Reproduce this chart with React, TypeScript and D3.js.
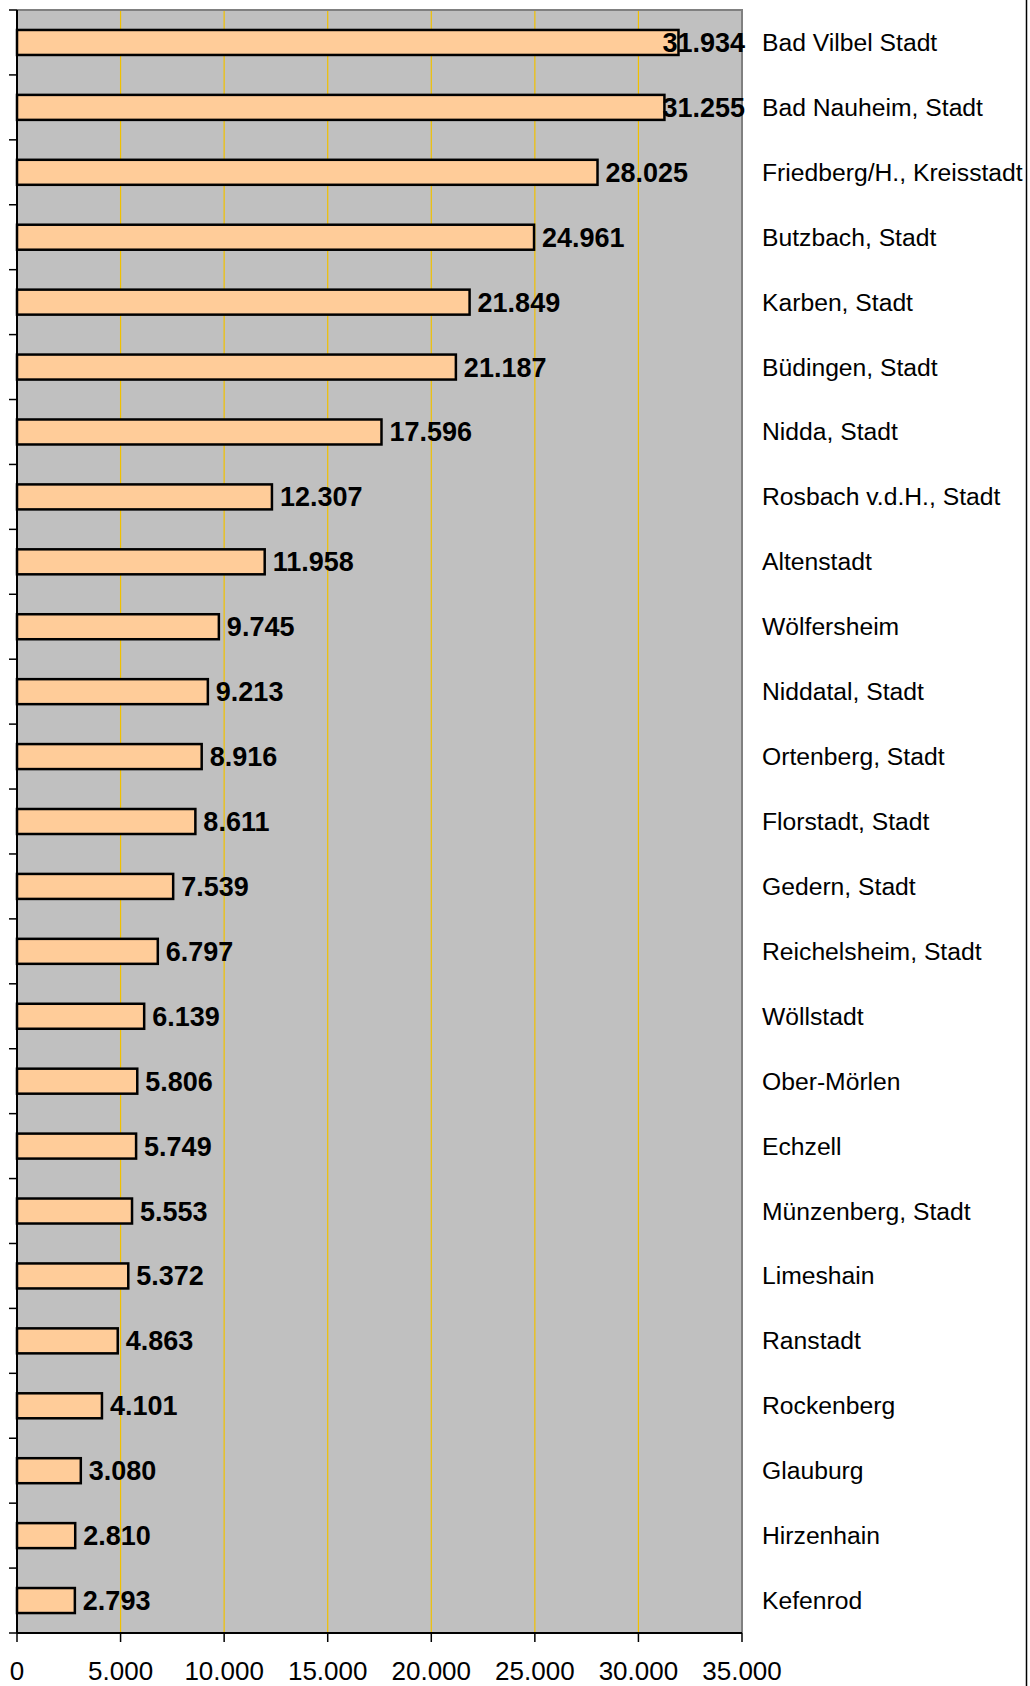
import React, { useEffect, useRef } from "react";
import * as d3 from "d3";

const towns = [
  "Bad Vilbel Stadt", "Bad Nauheim, Stadt", "Friedberg/H., Kreisstadt", "Butzbach, Stadt",
  "Karben, Stadt", "Büdingen, Stadt", "Nidda, Stadt", "Rosbach v.d.H., Stadt", "Altenstadt",
  "Wölfersheim", "Niddatal, Stadt", "Ortenberg, Stadt", "Florstadt, Stadt", "Gedern, Stadt",
  "Reichelsheim, Stadt", "Wöllstadt", "Ober-Mörlen", "Echzell", "Münzenberg, Stadt",
  "Limeshain", "Ranstadt", "Rockenberg", "Glauburg", "Hirzenhain", "Kefenrod",
];
const population = [
  31934, 31255, 28025, 24961, 21849, 21187, 17596, 12307, 11958, 9745, 9213, 8916, 8611,
  7539, 6797, 6139, 5806, 5749, 5553, 5372, 4863, 4101, 3080, 2810, 2793,
];
const xTicks = [0, 5000, 10000, 15000, 20000, 25000, 30000, 35000];

const W = 1030;
const H = 1686;
const font = "'Liberation Sans', Arial, sans-serif";

export default function App() {
  const ref = useRef<SVGSVGElement>(null);

  useEffect(() => {
    const svg = d3.select(ref.current);
    svg.selectAll("*").remove();

    const left = 17, right = 742, top = 10, bottom = 1633;
    const x = d3.scaleLinear().domain([0, 35000]).range([left, right]);
    const y = d3.scaleBand().domain(towns).range([top, bottom]).paddingInner(0.615).paddingOuter(0.3075);
    const fmt = (v: number) => d3.format(",")(v).replace(/,/g, ".");

    // plot background
    svg.append("rect")
      .attr("x", left).attr("y", top)
      .attr("width", right - left).attr("height", bottom - top)
      .attr("fill", "#c0c0c0");

    // gridlines
    svg.append("g").selectAll("line")
      .data(xTicks.slice(1, -1))
      .enter().append("line")
      .attr("x1", d => x(d)).attr("x2", d => x(d))
      .attr("y1", top).attr("y2", bottom)
      .attr("stroke", "#f0c000").attr("stroke-width", 1.2);

    // plot border top/right
    svg.append("path")
      .attr("d", `M${left},${top}H${right}V${bottom}`)
      .attr("fill", "none").attr("stroke", "#808080").attr("stroke-width", 2);

    // bar fills
    svg.append("g").selectAll("rect")
      .data(towns)
      .enter().append("rect")
      .attr("x", left)
      .attr("y", d => y(d)!)
      .attr("width", (d, i) => x(population[i]) - left)
      .attr("height", y.bandwidth())
      .attr("fill", "#ffcc99");

    // value labels (kept inside the plot, like excel does)
    const labels = svg.append("g").selectAll("text")
      .data(towns)
      .enter().append("text")
      .attr("y", d => y(d)! + y.bandwidth() / 2 + 9.5)
      .style("font-family", font).style("font-size", "27px").style("font-weight", "bold")
      .attr("fill", "#000")
      .text((d, i) => fmt(population[i]));
    labels.each(function (d, i) {
      const w = (this as SVGTextElement).getComputedTextLength();
      d3.select(this).attr("x", Math.min(x(population[i]) + 8, 745 - w));
    });

    // bar outlines on top
    svg.append("g").selectAll("rect")
      .data(towns)
      .enter().append("rect")
      .attr("x", left)
      .attr("y", d => y(d)!)
      .attr("width", (d, i) => x(population[i]) - left)
      .attr("height", y.bandwidth())
      .attr("fill", "none")
      .attr("stroke", "#000").attr("stroke-width", 2.5);

    // category labels on the right
    svg.append("g").selectAll("text")
      .data(towns)
      .enter().append("text")
      .attr("x", 762)
      .attr("y", d => y(d)! + y.bandwidth() / 2 + 8.5)
      .style("font-family", font).style("font-size", "24.7px")
      .attr("fill", "#000")
      .text(d => d);

    // left axis
    const step = (bottom - top) / towns.length;
    svg.append("line")
      .attr("x1", left).attr("x2", left).attr("y1", top).attr("y2", bottom)
      .attr("stroke", "#000").attr("stroke-width", 2);
    svg.append("g").selectAll("line")
      .data(d3.range(towns.length + 1))
      .enter().append("line")
      .attr("x1", left - 8).attr("x2", left)
      .attr("y1", i => top + i * step).attr("y2", i => top + i * step)
      .attr("stroke", "#000").attr("stroke-width", 1.5);

    // bottom axis
    svg.append("line")
      .attr("x1", left).attr("x2", right).attr("y1", bottom).attr("y2", bottom)
      .attr("stroke", "#000").attr("stroke-width", 2);
    const ax = svg.append("g").selectAll("g").data(xTicks).enter().append("g");
    ax.append("line")
      .attr("x1", d => x(d)).attr("x2", d => x(d))
      .attr("y1", bottom).attr("y2", bottom + 9)
      .attr("stroke", "#000").attr("stroke-width", 1.5);
    ax.append("text")
      .attr("x", d => x(d)).attr("y", 1680)
      .attr("text-anchor", "middle")
      .style("font-family", font).style("font-size", "26px")
      .attr("fill", "#000")
      .text(d => fmt(d));

    // outer frame edge on the right
    svg.append("line")
      .attr("x1", 1026.5).attr("x2", 1026.5).attr("y1", 0).attr("y2", H)
      .attr("stroke", "#000").attr("stroke-width", 1.5);
  }, []);

  return (
    <svg ref={ref} width={W} height={H}
      style={{ position: "absolute", left: 0, top: 0, background: "#fff" }} />
  );
}
